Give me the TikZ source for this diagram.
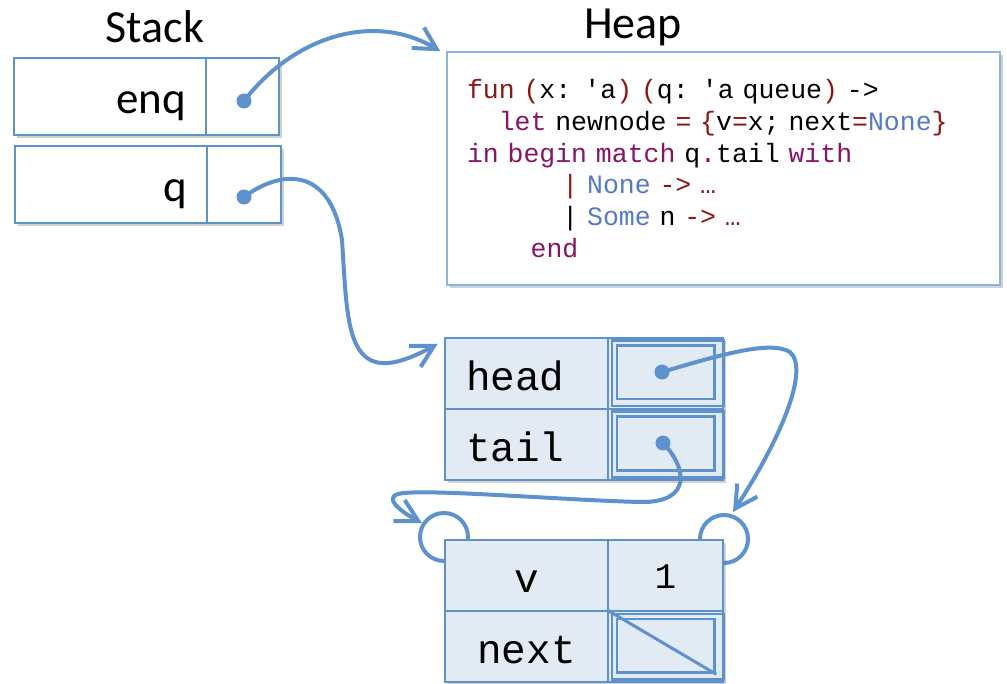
\documentclass[tikz,border=0pt]{standalone}
\usepackage{fontspec}
\setmainfont{Carlito}
\setmonofont{Liberation Mono}
\usetikzlibrary{arrows.meta,shadows}

\definecolor{ptrblue}{RGB}{94,146,204}
\definecolor{boxblue}{RGB}{140,180,225}
\definecolor{cellfill}{RGB}{226,234,244}
\definecolor{kwred}{RGB}{139,22,22}
\definecolor{kwpurple}{RGB}{135,20,100}
\definecolor{conblue}{RGB}{84,122,196}

\tikzset{
	shadowed/.style={drop shadow={shadow xshift=3pt,shadow yshift=-3pt,opacity=.3,fill=black!60}},
	slot/.style={draw=ptrblue,line width=1.5pt,fill=white,shadowed,minimum height=77pt,inner sep=0pt,
		text height=35pt,text depth=0pt,font=\fontsize{45}{50}\selectfont},
	field/.style={draw=ptrblue,line width=2.5pt,fill=cellfill,shadowed,minimum height=71pt,inner sep=0pt,
		text height=34pt,text depth=0pt,font=\fontsize{41}{45}\selectfont\ttfamily},
	ptr/.style={ptrblue,line width=4pt,line cap=round},
	ptrtip/.style={ptr,-{Straight Barb[length=22pt,width=24pt]}},
	frame/.style={draw=ptrblue,line width=2.5pt},
}

\begin{document}
\begin{tikzpicture}[x=1pt,y=-1pt]
	\useasboundingbox (0,0) rectangle (1007,684);

	% stack
	\node[font=\fontsize{46}{50}\selectfont] (stacklbl) at (155,27) {Stack};
	\node[slot,minimum width=192pt,text width=152pt,align=right] (enqname) at (110,96.5) {enq};
	\node[slot,minimum width=73pt] (enqptr) at (242.5,96.5) {};
	\node[slot,minimum width=192pt,text width=152pt,align=right] (qname) at (111,184.5) {q};
	\node[slot,minimum width=74pt] (qptr) at (244,184.5) {};

	\coordinate (enqdot) at (244,101);
	\coordinate (qdot) at (244,197);
	\fill[ptrblue] (enqdot) circle (7.5pt);
	\fill[ptrblue] (qdot) circle (7.5pt);

	% heap
	\node[font=\fontsize{46}{50}\selectfont] (heaplbl) at (633,27) {Heap};
	\node[draw=boxblue,line width=1.5pt,fill=white,shadowed,minimum width=553pt,minimum height=233pt,
		text width=513pt,inner xsep=20pt,inner ysep=0pt,align=left,
		font=\fontsize{26.5}{31.7}\selectfont\ttfamily] (heapbox) at (723.5,168.5) {%
		\textcolor{kwred}{fun (}x: 'a\textcolor{kwred}{) (}q: 'a queue\textcolor{kwred}{)} ->\\
		\phantom{xx}\textcolor{kwpurple}{let} newnode \textcolor{kwred}{= \{}v\textcolor{kwred}{=}x; next\textcolor{kwred}{=}\textcolor{conblue}{None}\textcolor{kwred}{\}}\\
		\textcolor{kwpurple}{in begin match} q\textcolor{kwred}{.}tail \textcolor{kwpurple}{with}\\
		\phantom{xxxxxx}\textcolor{kwred}{|} \textcolor{conblue}{None} \textcolor{kwred}{-> …}\\
		\phantom{xxxxxx}| \textcolor{conblue}{Some} n \textcolor{kwred}{-> …}\\
		\phantom{xxxx}\textcolor{kwpurple}{end}};

	% queue record
	\node[field,minimum width=163pt,text width=121pt,align=left] (headname) at (526.5,373.5) {head};
	\node[field,minimum width=115pt] (headptr) at (665.5,373.5) {};
	\node[field,minimum width=163pt,text width=121pt,align=left] (tailname) at (526.5,444.5) {tail};
	\node[field,minimum width=115pt] (tailptr) at (665.5,444.5) {};

	% node record, hooks behind it
	\coordinate (lhook) at (444,537);
	\coordinate (rhook) at (724,539);
	\draw[ptr] (lhook) circle (24pt);
	\draw[ptr] (rhook) circle (24pt);

	\node[field,minimum width=163pt] (vname) at (526.5,575.5) {v};
	\node[field,minimum width=115pt,text height=26pt,font=\fontsize{36}{40}\selectfont\ttfamily] (vval) at (665.5,575.5) {1};
	\node[field,minimum width=163pt] (nextname) at (526.5,646.5) {next};
	\node[field,minimum width=115pt] (nextptr) at (665.5,646.5) {};

	\foreach \c in {headptr,tailptr,nextptr}{
		\draw[frame] ([shift={(5,4)}]\c.north west) rectangle ([shift={(-1,-4)}]\c.south east);
		\draw[frame] ([shift={(10,9)}]\c.north west) rectangle ([shift={(-10,-11)}]\c.south east);
	}
	\draw[ptrblue,line width=3pt] (nextptr.north west) -- ([shift={(-8,-9)}]nextptr.south east);

	\coordinate (headdot) at (662,372);
	\coordinate (taildot) at (663,443);
	\fill[ptrblue] (headdot) circle (7.5pt);
	\fill[ptrblue] (taildot) circle (7.5pt);

	% pointers
	\draw[ptrtip] (enqdot) .. controls (295,35) and (375,12) .. ([xshift=-6pt]heapbox.north west);
	\draw[ptrtip] (qdot) .. controls (280,170) and (330,165) .. (342,240)
		.. controls (348,330) and (345,395) .. ([shift={(-6,7)}]headname.north west);
	\draw[ptrtip] (headdot) .. controls (720,355) and (770,340) .. (790,352)
		.. controls (810,370) and (780,440) .. ([shift={(9,-27)}]rhook);
	\draw[ptrtip] (taildot) .. controls (685,465) and (695,503) .. (640,502)
		.. controls (560,500) and (420,488) .. (398,494)
		.. controls (385,498) and (398,510) .. ([shift={(-22,-14)}]lhook);
\end{tikzpicture}
\end{document}
